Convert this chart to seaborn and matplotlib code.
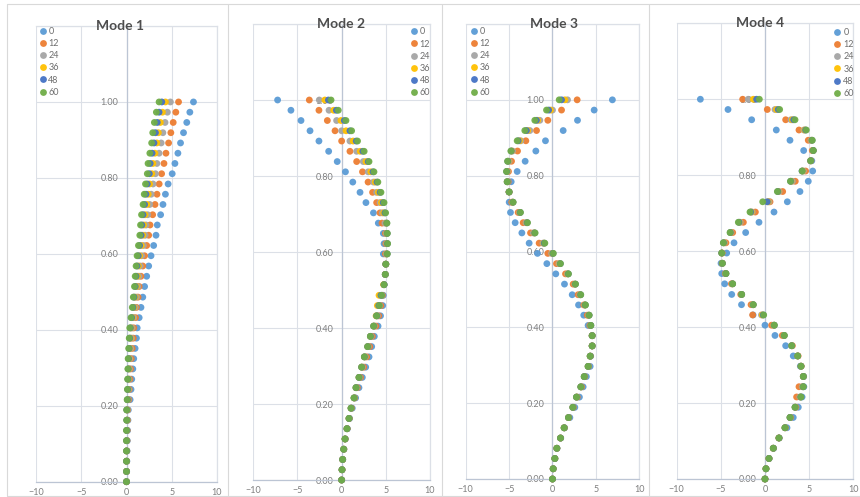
import pandas as pd
import seaborn as sns
import matplotlib.pyplot as plt
from matplotlib.lines import Line2D

# normalised storey heights (shared by every series)
heights = [0.000, 0.027, 0.054, 0.081, 0.108, 0.135, 0.162, 0.189, 0.216, 0.243,
           0.270, 0.297, 0.324, 0.351, 0.378, 0.405, 0.432, 0.459, 0.486, 0.514,
           0.541, 0.568, 0.595, 0.622, 0.649, 0.676, 0.703, 0.730, 0.757, 0.784,
           0.811, 0.838, 0.865, 0.892, 0.919, 0.946, 0.973, 1.000]

ages = ['0', '12', '24', '36', '48', '60']
colors = ['#5B9BD5', '#ED7D31', '#A5A5A5', '#FFC000', '#4472C4', '#70AD47']

# Mode 1
mode1_0 = [0, 0.02, 0.04, 0.06, 0.09, 0.12, 0.16, 0.2, 0.4, 0.5, 0.58, 0.7, 0.8, 0.95, 1.1, 1.18,
           1.4, 1.6, 1.8, 2.0, 2.23, 2.45, 2.71, 3.0, 3.26, 3.4, 3.77, 4.03, 4.3, 4.6, 5.05, 5.35,
           5.68, 5.97, 6.3, 6.66, 7.0, 7.4]
mode1_12 = [0, 0.01, 0.02, 0.03, 0.05, 0.07, 0.1, 0.12, 0.25, 0.3, 0.38, 0.45, 0.52, 0.62, 0.75, 0.8,
            1.0, 1.1, 1.28, 1.4, 1.6, 1.8, 2.0, 2.23, 2.45, 2.6, 2.89, 3.15, 3.37, 3.61, 3.88, 4.14,
            4.36, 4.65, 4.9, 5.16, 5.45, 5.75]
mode1_24 = [0, 0.01, 0.01, 0.02, 0.03, 0.04, 0.07, 0.08, 0.18, 0.23, 0.27, 0.33, 0.38, 0.47, 0.56, 0.63,
            0.8, 0.96, 1.1, 1.25, 1.38, 1.52, 1.68, 1.87, 2.06, 2.16, 2.34, 2.56, 2.73, 2.93, 3.2, 3.36,
            3.6, 3.83, 4.02, 4.26, 4.52, 4.85]
mode1_36 = [0, 0, 0.01, 0.02, 0.02, 0.03, 0.05, 0.05, 0.13, 0.17, 0.2, 0.25, 0.29, 0.37, 0.44, 0.51,
            0.66, 0.81, 0.94, 1.09, 1.2, 1.31, 1.45, 1.63, 1.8, 1.9, 2.05, 2.25, 2.4, 2.55, 2.8, 2.92,
            3.14, 3.35, 3.52, 3.74, 3.97, 4.3]
mode1_48 = [0, 0, 0, 0.01, 0.01, 0.02, 0.03, 0.03, 0.1, 0.13, 0.16, 0.19, 0.23, 0.3, 0.36, 0.43,
            0.57, 0.72, 0.84, 0.97, 1.06, 1.17, 1.3, 1.45, 1.62, 1.7, 1.83, 2.0, 2.15, 2.3, 2.52, 2.62,
            2.83, 3.04, 3.2, 3.4, 3.6, 3.9]
mode1_60 = [0, 0, 0, 0, 0, 0, 0.02, 0.02, 0.07, 0.1, 0.12, 0.15, 0.18, 0.24, 0.3, 0.36,
            0.5, 0.64, 0.75, 0.88, 0.96, 1.06, 1.17, 1.32, 1.47, 1.55, 1.66, 1.83, 1.96, 2.1, 2.3, 2.38,
            2.58, 2.78, 2.9, 3.08, 3.3, 3.6]

# Mode 2
mode2_0 = [0, 0.05, 0.13, 0.26, 0.42, 0.65, 0.9, 1.2, 1.58, 1.96, 2.34, 2.72, 3.1, 3.4, 3.7, 4.12,
           4.4, 4.65, 4.72, 4.8, 4.94, 5.0, 4.72, 4.8, 4.72, 4.15, 3.6, 2.75, 2.08, 1.26, 0.43, -0.5,
           -1.47, -2.57, -3.58, -4.6, -5.74, -7.25]
mode2_12 = [0, 0.05, 0.12, 0.25, 0.4, 0.62, 0.86, 1.12, 1.48, 1.78, 2.14, 2.5, 2.84, 3.18, 3.48, 3.88,
            4.2, 4.45, 4.62, 4.8, 4.94, 5.0, 4.95, 5.0, 4.95, 4.57, 4.34, 3.96, 3.5, 2.99, 2.36, 1.7,
            0.94, 0.0, -0.75, -1.62, -2.57, -3.66]
mode2_24 = [0, 0.04, 0.11, 0.23, 0.39, 0.61, 0.84, 1.08, 1.43, 1.68, 2.03, 2.35, 2.67, 3.02, 3.34, 3.7,
            4.05, 4.3, 4.55, 4.8, 4.94, 5.0, 5.05, 5.1, 5.05, 4.9, 4.6, 4.35, 3.95, 3.6, 3.0, 2.45,
            1.7, 0.94, 0.0, -0.57, -1.43, -2.53]
mode2_36 = [0, 0.04, 0.11, 0.23, 0.38, 0.6, 0.83, 1.06, 1.4, 1.62, 1.96, 2.26, 2.57, 2.94, 3.25, 3.62,
            3.9, 4.04, 4.23, 4.75, 4.94, 5.0, 5.12, 5.15, 5.12, 5.05, 4.75, 4.5, 4.15, 3.8, 3.3, 2.75,
            2.1, 1.3, 0.5, -0.08, -0.9, -1.9]
mode2_48 = [0, 0.04, 0.11, 0.23, 0.38, 0.6, 0.83, 1.06, 1.4, 1.62, 1.96, 2.26, 2.57, 2.94, 3.25, 3.62,
            3.96, 4.2, 4.45, 4.8, 4.94, 5.0, 5.15, 5.18, 5.15, 5.1, 4.9, 4.7, 4.35, 4.0, 3.55, 3.0,
            2.4, 1.65, 0.94, 0.3, -0.6, -1.5]
mode2_60 = [0, 0.04, 0.11, 0.23, 0.38, 0.6, 0.83, 1.06, 1.4, 1.62, 1.96, 2.26, 2.57, 2.94, 3.25, 3.62,
            3.96, 4.26, 4.53, 4.8, 4.94, 5.0, 5.17, 5.2, 5.17, 5.13, 4.98, 4.8, 4.45, 4.1, 3.66, 3.1,
            2.55, 1.8, 1.13, 0.49, -0.38, -1.2]

# Mode 3
mode3_0 = [0, 0.08, 0.28, 0.52, 0.95, 1.4, 2.0, 2.57, 3.1, 3.53, 3.9, 4.34, 4.4, 4.57, 4.57, 4.1,
           3.6, 3.0, 2.27, 1.38, 0.38, -0.65, -1.73, -2.69, -3.53, -4.3, -4.84, -4.99, -5.0, -4.76,
           -4.07, -3.15, -1.92, -0.81, 1.23, 2.88, 4.8, 6.9]
mode3_12 = [0, 0.08, 0.27, 0.5, 0.93, 1.36, 1.88, 2.4, 2.85, 3.35, 3.72, 4.16, 4.36, 4.57, 4.57, 4.3,
            4.0, 3.6, 2.95, 2.38, 1.5, 0.46, -0.54, -1.54, -2.53, -3.38, -3.96, -4.7, -5.0, -5.1,
            -5.07, -4.72, -4.03, -3.07, -1.84, -0.54, 1.04, 2.84]
mode3_24 = [0, 0.08, 0.27, 0.5, 0.92, 1.34, 1.85, 2.35, 2.78, 3.28, 3.67, 4.12, 4.34, 4.57, 4.57, 4.38,
            4.15, 3.72, 3.15, 2.58, 1.72, 0.75, -0.1, -1.1, -2.2, -3.05, -3.8, -4.6, -5.0, -5.2,
            -5.2, -5.0, -4.6, -3.65, -2.61, -1.46, 0.0, 1.73]
mode3_36 = [0, 0.08, 0.27, 0.5, 0.92, 1.34, 1.84, 2.34, 2.77, 3.27, 3.66, 4.1, 4.34, 4.57, 4.57, 4.4,
            4.2, 3.76, 3.2, 2.62, 1.78, 0.85, 0.0, -1.0, -2.1, -2.95, -3.75, -4.57, -5.0, -5.22,
            -5.25, -5.1, -4.7, -3.8, -2.85, -1.7, -0.23, 1.42]
mode3_48 = [0, 0.08, 0.27, 0.5, 0.92, 1.34, 1.84, 2.34, 2.76, 3.26, 3.65, 4.1, 4.34, 4.57, 4.57, 4.42,
            4.22, 3.78, 3.24, 2.64, 1.82, 0.9, 0.05, -0.95, -2.05, -2.92, -3.72, -4.55, -5.0, -5.22,
            -5.28, -5.15, -4.75, -3.95, -3.0, -1.85, -0.45, 1.04]
mode3_60 = [0, 0.08, 0.27, 0.5, 0.92, 1.34, 1.84, 2.34, 2.76, 3.26, 3.65, 4.1, 4.34, 4.57, 4.57, 4.42,
            4.22, 3.8, 3.26, 2.65, 1.84, 0.92, 0.1, -0.88, -2.0, -2.88, -3.69, -4.53, -5.0, -5.22,
            -5.3, -5.18, -4.8, -4.07, -3.19, -2.04, -0.69, 0.77]

# Mode 4
mode4_0 = [0, 0.12, 0.47, 0.98, 1.62, 2.49, 3.2, 3.77, 4.2, 4.4, 4.38, 4.0, 3.2, 2.34, 1.13, 0.0,
           -1.35, -2.66, -3.77, -4.57, -4.9, -4.98, -4.34, -3.51, -2.19, -0.68, 1.02, 2.53, 3.96, 4.9,
           5.4, 5.3, 4.38, 2.83, 1.28, -1.51, -4.19, -7.32]
mode4_12 = [0, 0.11, 0.45, 0.94, 1.58, 2.3, 2.9, 3.5, 3.58, 3.85, 4.34, 4.1, 3.75, 3.1, 1.96, 0.75,
            -1.4, -1.58, -2.75, -3.8, -4.5, -4.85, -4.85, -4.42, -3.66, -2.45, -1.09, 0.57, 2.0, 3.43,
            4.6, 5.2, 5.35, 4.9, 3.85, 2.34, 0.26, -2.53]
mode4_24 = [0, 0.11, 0.45, 0.94, 1.58, 2.27, 2.85, 3.43, 3.95, 4.22, 4.34, 4.08, 3.7, 3.04, 2.15, 1.0,
            -0.4, -1.38, -2.66, -3.7, -4.45, -4.84, -4.88, -4.6, -3.85, -2.8, -1.45, 0.45, 1.6, 3.1,
            4.35, 5.17, 5.45, 5.2, 4.4, 2.94, 1.13, -1.9]
mode4_36 = [0, 0.11, 0.45, 0.94, 1.58, 2.26, 2.84, 3.41, 4.02, 4.3, 4.34, 4.08, 3.7, 3.03, 2.17, 1.03,
            -0.3, -1.35, -2.65, -3.68, -4.43, -4.83, -4.89, -4.66, -3.9, -2.9, -1.55, 0.35, 1.5, 2.95,
            4.25, 5.17, 5.46, 5.28, 4.5, 3.1, 1.3, -1.32]
mode4_48 = [0, 0.11, 0.45, 0.94, 1.58, 2.26, 2.83, 3.4, 4.05, 4.32, 4.34, 4.08, 3.7, 3.02, 2.18, 1.05,
            -0.2, -1.33, -2.64, -3.67, -4.42, -4.83, -4.9, -4.7, -3.93, -2.95, -1.62, 0.26, 1.45, 2.9,
            4.2, 5.17, 5.47, 5.32, 4.6, 3.25, 1.5, -0.95]
mode4_60 = [0, 0.11, 0.45, 0.94, 1.58, 2.26, 2.83, 3.4, 4.08, 4.34, 4.34, 4.08, 3.7, 3.02, 2.19, 1.06,
            -0.15, -1.32, -2.64, -3.66, -4.42, -4.83, -4.9, -4.72, -3.96, -3.02, -1.7, -0.26, 1.4, 2.88,
            4.2, 5.17, 5.47, 5.36, 4.68, 3.4, 1.66, -0.64]

modes = {
  'Mode 1': [mode1_0, mode1_12, mode1_24, mode1_36, mode1_48, mode1_60],
  'Mode 2': [mode2_0, mode2_12, mode2_24, mode2_36, mode2_48, mode2_60],
  'Mode 3': [mode3_0, mode3_12, mode3_24, mode3_36, mode3_48, mode3_60],
  'Mode 4': [mode4_0, mode4_12, mode4_24, mode4_36, mode4_48, mode4_60],
}

W, H = 860, 497

# plot area boxes in pixels: left, right, top, bottom
boxes = {
  'Mode 1': (36, 217, 26, 481.7),
  'Mode 2': (253.3, 430, 24, 480),
  'Mode 3': (465.7, 639.3, 24, 479),
  'Mode 4': (676.7, 853.3, 23.3, 479),
}
title_x = {'Mode 1': 0.465, 'Mode 2': 0.497, 'Mode 3': 0.51, 'Mode 4': 0.474}
# legend upper-left corner in pixels
legend_pos = {
  'Mode 1': (40.3, 27),
  'Mode 2': (411.5, 27.4),
  'Mode 3': (471.5, 27),
  'Mode 4': (835.2, 28.1),
}

grid_col = '#DCE0E7'
axis_col = '#BCC5D4'
text_col = '#7F7F7F'


def long_frame(series):
  rows = []
  for age, vals in zip(ages, series):
    for h, v in zip(heights, vals):
      rows.append({'age': age, 'height': h, 'disp': v})
  return pd.DataFrame(rows)


def main():
  sns.set_theme(style='white')
  plt.rcParams['font.family'] = ['Lato', 'DejaVu Sans']

  fig = plt.figure(figsize=(W / 100, H / 100), dpi=100)
  fig.patch.set_facecolor('white')

  # chart-area borders
  border = '#D9D9D9'
  for x in [7, 228, 442, 649]:
    fig.add_artist(Line2D([x / W, x / W], [1 - 4 / H, 1 - 496 / H], transform=fig.transFigure,
                          color=border, lw=0.8))
  fig.add_artist(Line2D([7 / W, 1], [1 - 4 / H, 1 - 4 / H], transform=fig.transFigure, color=border, lw=0.8))
  fig.add_artist(Line2D([7 / W, 1], [1 - 496 / H, 1 - 496 / H], transform=fig.transFigure, color=border, lw=0.8))

  palette = dict(zip(ages, colors))
  for name, series in modes.items():
    l, r, t, b = boxes[name]
    ax = fig.add_axes([l / W, 1 - b / H, (r - l) / W, (b - t) / H])
    df = long_frame(series)
    sns.scatterplot(data=df, x='disp', y='height', hue='age', hue_order=ages, palette=palette,
                    s=24, linewidth=0, alpha=0.95, ax=ax, clip_on=False, zorder=3)
    ax.set_xlim(-10, 10)
    ax.set_ylim(0, 1.2)
    ax.set_xticks([-10, -5, 0, 5, 10])
    ax.set_yticks([0, 0.2, 0.4, 0.6, 0.8, 1.0, 1.2])
    ax.set_yticklabels(['0.00', '0.20', '0.40', '0.60', '0.80', '1.00', ''])
    ax.set_xlabel('')
    ax.set_ylabel('')
    ax.grid(True, color=grid_col, lw=0.8)
    ax.set_axisbelow(True)
    ax.spines['left'].set_position(('data', 0))
    ax.spines['left'].set_color(axis_col)
    ax.spines['bottom'].set_color(axis_col)
    ax.spines['top'].set_color(grid_col)
    ax.spines['right'].set_color(grid_col)
    for sp in ax.spines.values():
      sp.set_linewidth(0.9)
    ax.tick_params(axis='both', length=0, labelsize=6.5, colors=text_col)
    ax.tick_params(axis='y', pad=6)
    ax.tick_params(axis='x', pad=4.5)
    ax.set_facecolor('white')

    ax.text(title_x[name], 1.0, name, transform=ax.transAxes, ha='center', va='center',
            fontsize=10, fontweight='bold', color='#4D4D4D', zorder=5)

    leg = ax.get_legend()
    handles = leg.legend_handles
    leg.remove()
    lx, ly = legend_pos[name]
    ax.legend(handles, ages, loc='upper left', bbox_to_anchor=(lx / W, 1 - ly / H),
              bbox_transform=fig.transFigure, frameon=False, fontsize=6.5, labelspacing=0.35,
              handlelength=0.5, handletextpad=0.4, borderpad=0, borderaxespad=0,
              labelcolor='#6E6E6E')

  plt.savefig('out.png', dpi=100, facecolor='white')


if __name__ == '__main__':
  main()
